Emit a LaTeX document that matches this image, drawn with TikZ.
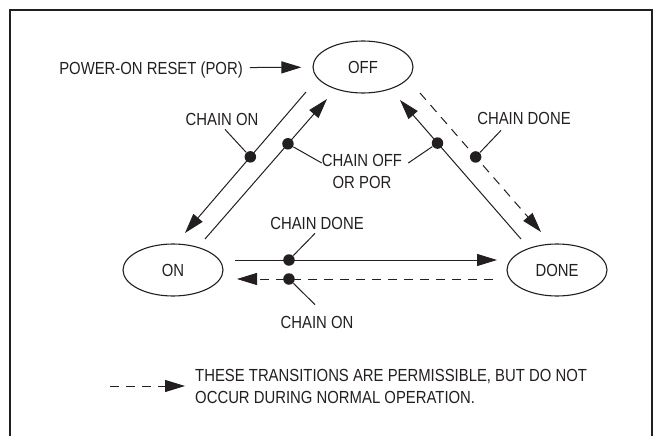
\documentclass[tikz,border=0pt]{standalone}
\usepackage{fontspec}
\setmainfont{Liberation Sans}[FakeStretch=0.85]
\usepackage{tikz}
\usetikzlibrary{shapes}
\usetikzlibrary{arrows.meta}
\usetikzlibrary{calc}

\definecolor{ink}{HTML}{231F20}

\tikzset{
    state/.style={draw=ink, ellipse, line width=1.1pt, minimum width=100pt,
                  minimum height=52pt, inner sep=0pt, text=ink},
    lbl/.style={inner sep=0pt, text=ink},
    trans/.style={draw=ink, line width=1pt, -{Triangle[length=20pt,width=12pt]}},
    rare/.style={trans, dash pattern=on 9pt off 7pt},
    dot/.style={circle, fill=ink, inner sep=0pt, minimum size=11.5pt},
    lead/.style={draw=ink, line width=1pt}
}

\begin{document}
\begin{tikzpicture}[x=1pt, y=-1pt, font=\fontsize{17.5pt}{22pt}\selectfont]
    \useasboundingbox (0,0) rectangle (654,436);
    \draw[ink, line width=2pt] (10,436) -- (10,10) -- (652,10) -- (652,436);

    \node[state] (off) at (363,67) {OFF};
    \node[state] (on) at (173,270) {ON};
    \node[state] (done) at (557,270) {DONE};

    \node[lbl, text height=12.5pt, text depth=0pt] (por) at (151,68)
                                       {POWER-ON RESET (POR)};
    \node[lbl] (onA) at (222,119) {CHAIN ON};
    \node[lbl, align=center] (offpor) at (362,171) {CHAIN OFF\\OR POR};
    \node[lbl] (doneA) at (524,118) {CHAIN DONE};
    \node[lbl] (doneB) at (317,223) {CHAIN DONE};
    \node[lbl] (onB) at (317,322) {CHAIN ON};
    \node[lbl, align=left, anchor=west] (legend) at (195,386)
    {THESE TRANSITIONS ARE PERMISSIBLE, BUT DO NOT\\
     OCCUR DURING NORMAL OPERATION.};
    \coordinate (legstart) at (110,386);

    \draw[trans, shorten <=7pt, shorten >=11pt] (por) -- (off);
    \draw[trans] ($(off)+(-57,25)$) -- node[dot, pos=.46] (d1) {}
                                       ($(on)+(12,-37)$);
    \draw[trans] ($(on)+(32,-31)$) -- node[dot, pos=.68] (d2) {}
                                       ($(off)+(-36,32)$);
    \draw[trans] ($(done)+(-36,-31)$) -- node[dot, pos=.69] (d3) {}
                                       ($(off)+(37,33)$);
    \draw[rare] ($(off)+(57,26)$) -- node[dot, pos=.46] (d4) {}
                                       ($(done)+(-16,-38)$);
    \draw[trans] ($(on)+(62,-10)$) -- node[dot, pos=.206] (d5) {}
                                       ($(done)+(-60,-10)$);
    \draw[rare] ($(done)+(-64,9)$) -- node[dot, pos=.797] (d6) {}
                                       ($(on)+(64,9)$);

    \draw[lead] (d1) -- ($(onA.south)+(3,4)$);
    \draw[lead] (d2) -- ($(offpor.west)+(0,-8)$);
    \draw[lead] (d3) -- ($(offpor.east)+(6,-8)$);
    \draw[lead] (d4) -- ($(doneA.south)+(-23,6)$);
    \draw[lead] (d5) -- ($(doneB.south)+(-2,4)$);
    \draw[lead] (d6) -- ($(onB.north)+(-2,-11)$);

    \draw[rare, shorten >=10pt] (legstart) -- (legend.west);
\end{tikzpicture}
\end{document}
